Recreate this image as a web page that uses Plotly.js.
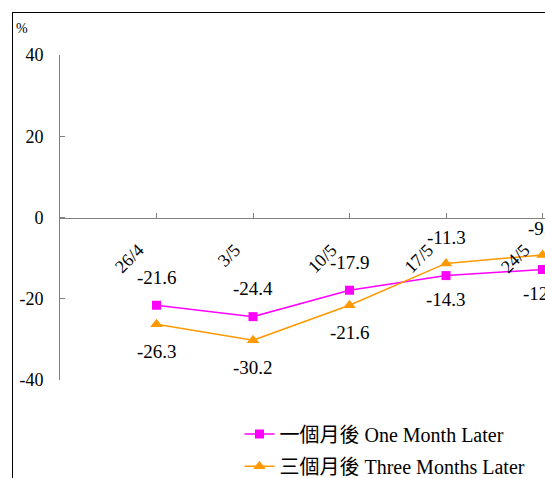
<!DOCTYPE html>
<html>
<head>
<meta charset="utf-8">
<script src="https://cdn.plot.ly/plotly-3.0.1.min.js"></script>
<style>
html, body { margin:0; padding:0; overflow:hidden; width:545px; height:478px; background:#fff; }
#plot { position:absolute; left:0; top:0; width:700px; height:520px; }
#frame { position:absolute; left:12px; top:12px; width:1000px; height:1000px; border-left:1px solid #000; border-top:1px solid #000; pointer-events:none; z-index:10; }
</style>
</head>
<body>
<div id="plot"></div>
<div id="frame"></div>
<script>
const categories = ['26/4', '3/5', '10/5', '17/5', '24/5'];
const oneMonth = [-21.6, -24.4, -17.9, -14.3, -12.8];
const threeMonths = [-26.3, -30.2, -21.6, -11.3, -9.2];
const yTickVals = [-40, -20, 0, 20, 40];
const seriesNames = ['一個月後 One Month Later', '三個月後 Three Months Later'];

const serif = 'Liberation Serif, Times New Roman, Noto Sans CJK TC, serif';

const traces = [
  {
    x: categories, y: oneMonth, name: seriesNames[0], type: 'scatter', mode: 'lines+markers',
    line: {color: '#FF00FF', width: 1.5},
    marker: {symbol: 'square', size: 9, color: '#FF00FF'},
    legend: 'legend', cliponaxis: false
  },
  {
    x: categories, y: threeMonths, name: seriesNames[1], type: 'scatter', mode: 'lines+markers',
    line: {color: '#FF9900', width: 1.5},
    marker: {symbol: 'triangle-up', size: 11, color: '#FF9900'},
    legend: 'legend2', cliponaxis: false
  }
];

const annotations = [];
categories.forEach((c, i) => {
  const a = oneMonth[i], b = threeMonths[i];
  const aAbove = a >= b;
  annotations.push({x: c, y: a, xref: 'x', yref: 'y', text: a.toFixed(1), showarrow: false,
    yshift: aAbove ? 28 : -24, font: {family: serif, size: 19, color: '#000'}});
  annotations.push({x: c, y: b, xref: 'x', yref: 'y', text: b.toFixed(1), showarrow: false,
    yshift: aAbove ? -27 : 26, font: {family: serif, size: 19, color: '#000'}});
});
annotations.push({xref: 'paper', yref: 'paper', x: -0.0795, y: 1.083, xanchor: 'left', yanchor: 'middle',
  text: '%', showarrow: false, font: {family: serif, size: 14, color: '#000'}});

const layout = {
  width: 700, height: 520,
  margin: {l: 60, r: 61, t: 55, b: 140},
  paper_bgcolor: 'rgba(0,0,0,0)', plot_bgcolor: 'rgba(0,0,0,0)',
  showlegend: true,
  font: {family: serif, size: 18, color: '#000'},
  xaxis: {
    type: 'category', range: [-1, 5], anchor: 'free', position: 0.5,
    showline: true, linecolor: '#808080', linewidth: 1,
    ticks: 'inside', ticklen: 5, tickcolor: '#808080',
    tickangle: -45, tickfont: {family: serif, size: 18, color: '#000'},
    ticklabelstandoff: 14, ticklabelshift: -18,
    showgrid: false, zeroline: false, fixedrange: true
  },
  yaxis: {
    range: [-40, 40], tickvals: yTickVals, ticktext: yTickVals.map(String),
    showline: true, linecolor: '#808080', linewidth: 1,
    ticks: 'inside', ticklen: 5, tickcolor: '#808080',
    tickfont: {family: serif, size: 18, color: '#000'},
    ticklabelstandoff: 12,
    showgrid: false, zeroline: false, fixedrange: true
  },
  legend: {x: 0.31, y: -0.166, xanchor: 'left', yanchor: 'middle', bgcolor: 'rgba(0,0,0,0)',
    font: {family: serif, size: 20, color: '#000'}},
  legend2: {x: 0.31, y: -0.265, xanchor: 'left', yanchor: 'middle', bgcolor: 'rgba(0,0,0,0)',
    font: {family: serif, size: 20, color: '#000'}},
  annotations: annotations
};

Plotly.newPlot('plot', traces, layout, {displayModeBar: false, staticPlot: true});
</script>
</body>
</html>
